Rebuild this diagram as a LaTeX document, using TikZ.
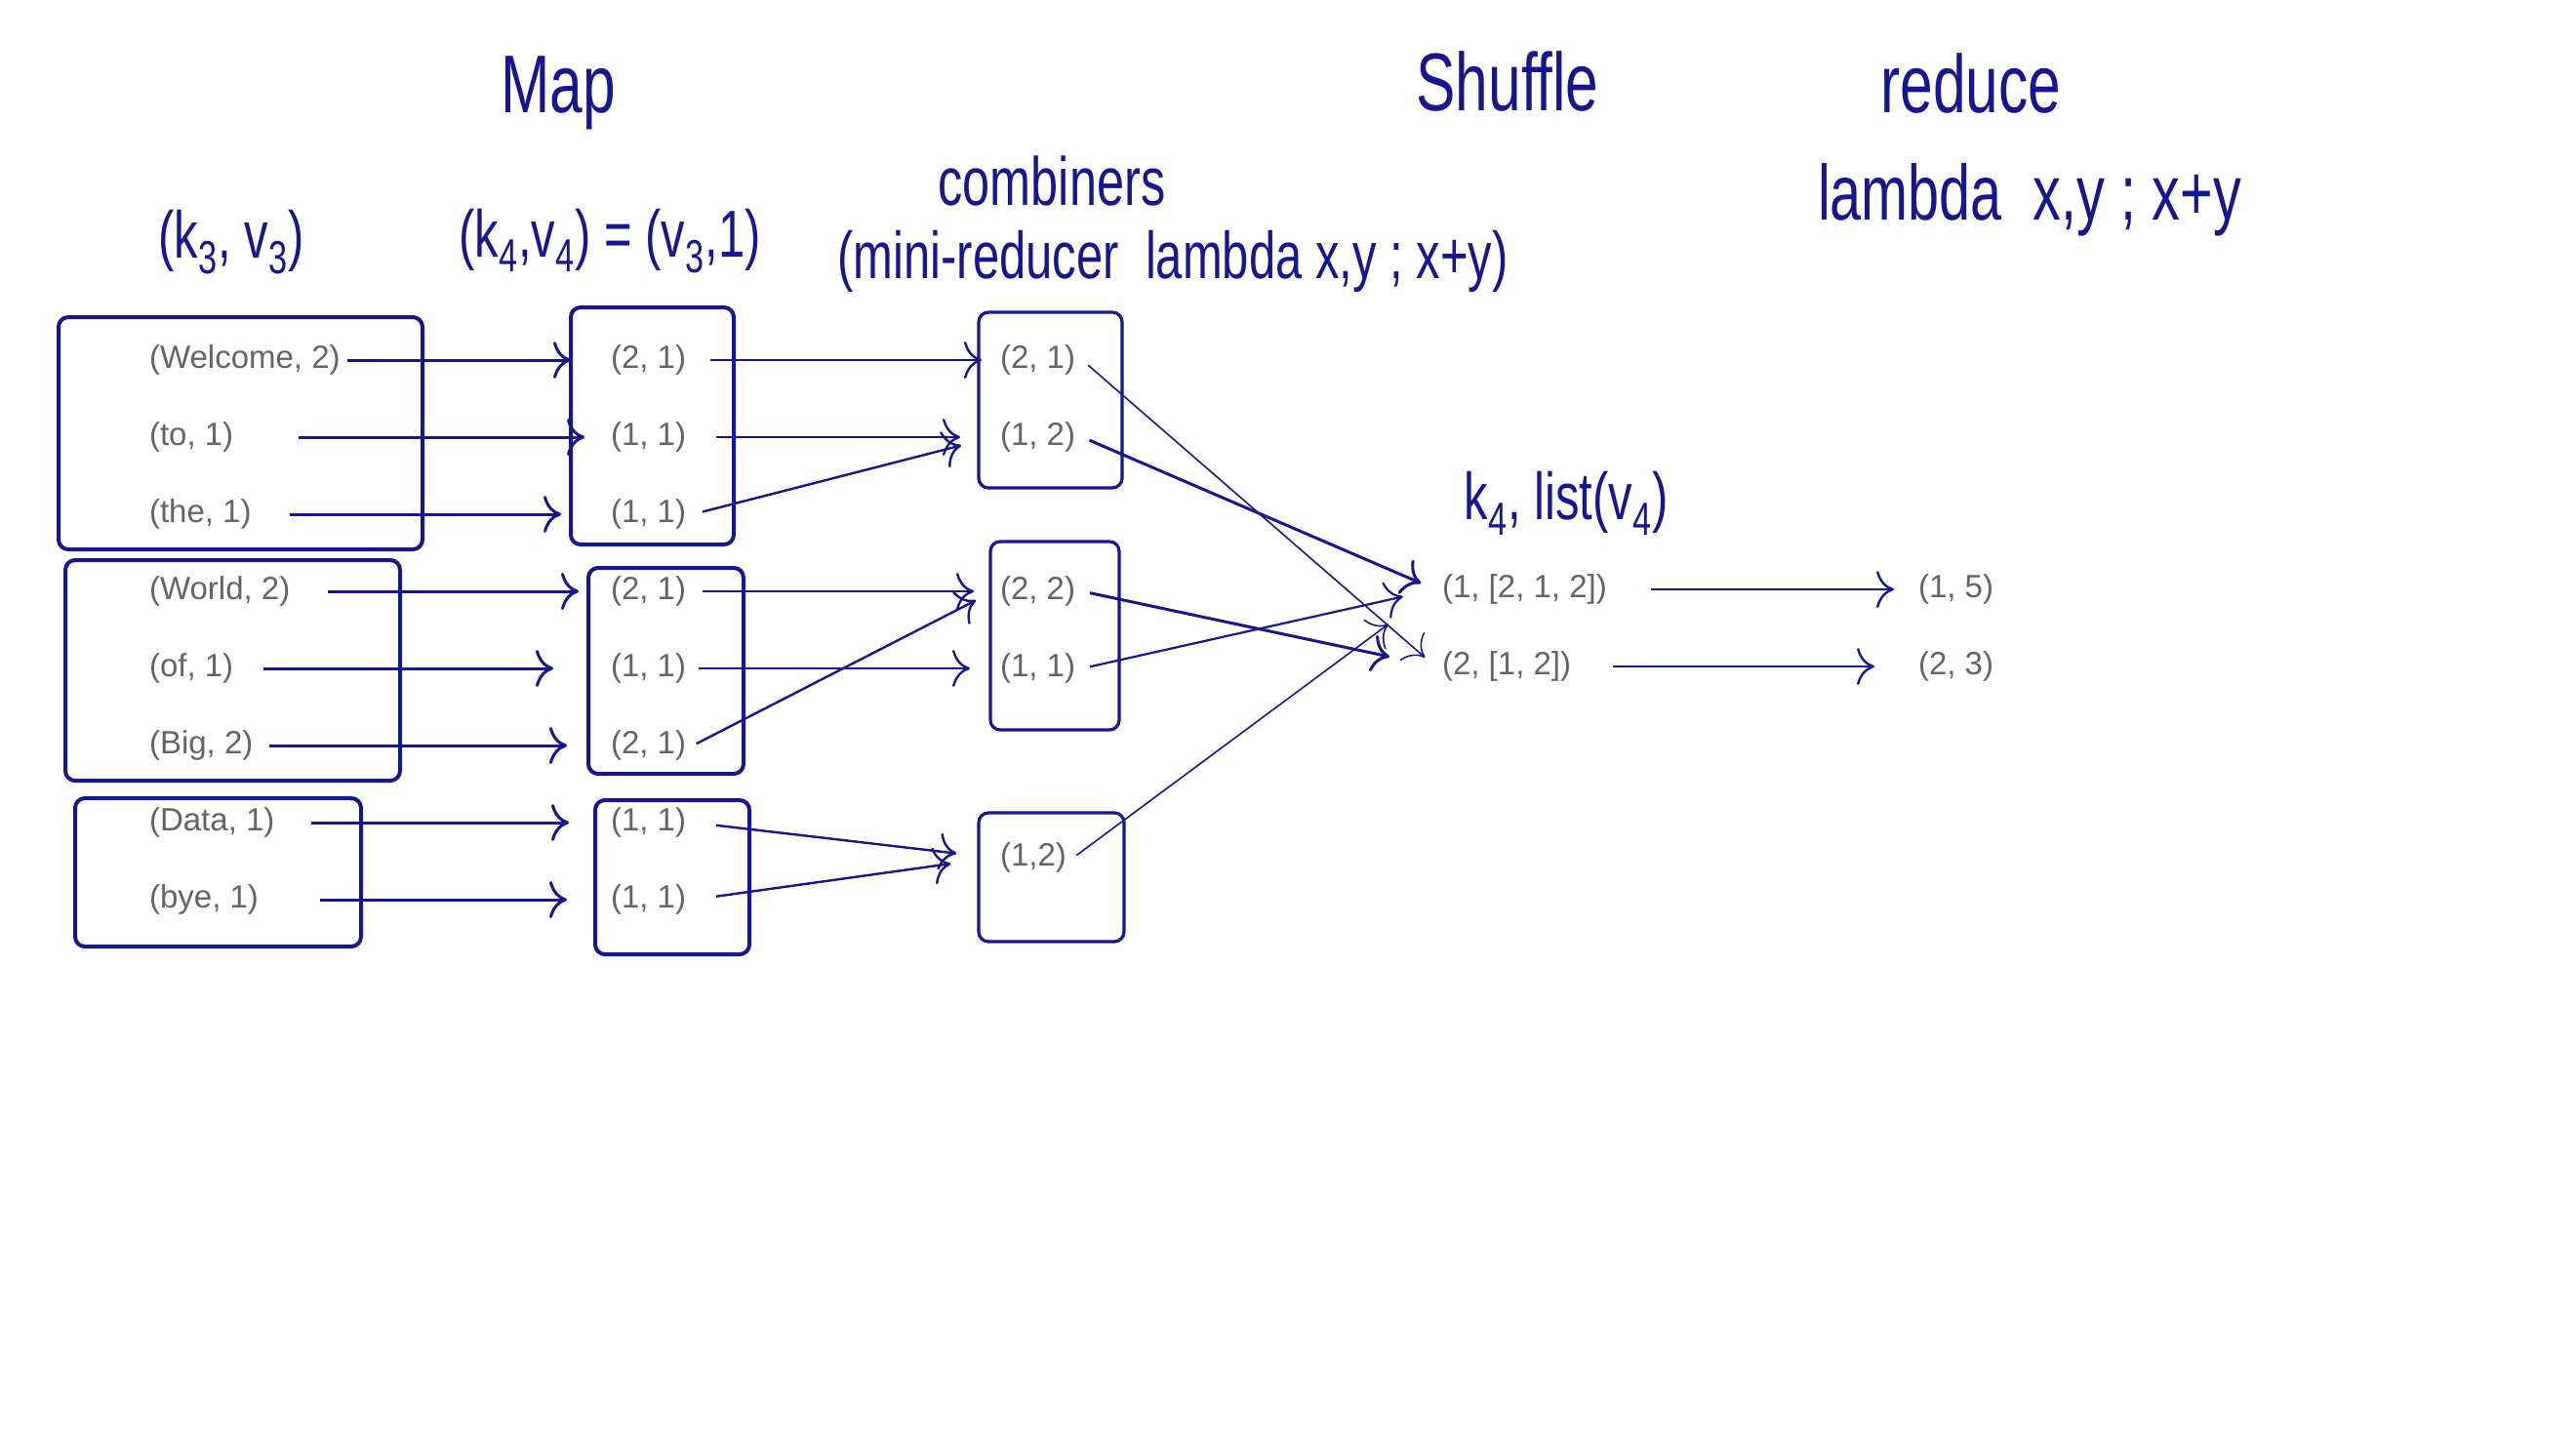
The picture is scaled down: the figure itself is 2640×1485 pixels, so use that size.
\documentclass[tikz,border=0pt]{standalone}
\usepackage{fontspec}
\setmainfont{Liberation Sans}
\newfontfamily\handfont[FakeStretch=0.72]{Liberation Sans}
\usepackage{tikz}
\usetikzlibrary{arrows.meta}

\definecolor{ink}{RGB}{22,22,145}
\definecolor{typed}{RGB}{100,100,100}

\tikzset{
  pair/.style={anchor=west, text=typed, font=\fontsize{16.5}{19}\selectfont},
  hand/.style={text=ink, font=\handfont\fontsize{#1}{#1}\selectfont},
  box/.style={draw=ink, line width=2pt, rounded corners=5pt},
  link/.style={-{To[length=9pt,width=19pt]}, draw=ink, line width=1.5pt},
  thin link/.style={link, line width=0.8pt},
}

\begin{document}
\begin{tikzpicture}[x=0.5pt,y=-0.5pt]
\useasboundingbox (0,0) rectangle (2640,1485);

% headings
\node[hand=42] (maphead) at (572,95) {Map};
\node[hand=42] (shufhead) at (1545,83) {Shuffle};
\node[hand=42] (redhead) at (2020,85) {reduce};
\node[hand=40] (redfun) at (2080,205) {lambda\ \ x,y ; x+y};
\node[hand=35] (combhead) at (1078,185) {combiners};
\node[hand=34] (combfun) at (1202,268) {(mini-reducer\ \ lambda x,y ; x+y)};
\node[hand=34] (kvthree) at (237,248) {(k\textsubscript{3}, v\textsubscript{3})};
\node[hand=34] (kvfour) at (625,247) {(k\textsubscript{4},v\textsubscript{4}) = (v\textsubscript{3},1)};
\node[hand=34] (klist) at (1605,516) {k\textsubscript{4}, list(v\textsubscript{4})};

% input pairs
\node[pair] (welcome) at (146,369) {(Welcome, 2)};
\node[pair] (to) at (146,448) {(to, 1)};
\node[pair] (the) at (146,527) {(the, 1)};
\node[pair] (world) at (146,606) {(World, 2)};
\node[pair] (of) at (146,685) {(of, 1)};
\node[pair] (big) at (146,764) {(Big, 2)};
\node[pair] (data) at (146,843) {(Data, 1)};
\node[pair] (bye) at (146,922) {(bye, 1)};

% map output
\node[pair] (m1) at (619,369) {(2, 1)};
\node[pair] (m2) at (619,448) {(1, 1)};
\node[pair] (m3) at (619,527) {(1, 1)};
\node[pair] (m4) at (619,606) {(2, 1)};
\node[pair] (m5) at (619,685) {(1, 1)};
\node[pair] (m6) at (619,764) {(2, 1)};
\node[pair] (m7) at (619,843) {(1, 1)};
\node[pair] (m8) at (619,922) {(1, 1)};

% combiner output
\node[pair] (c1) at (1018,369) {(2, 1)};
\node[pair] (c2) at (1018,448) {(1, 2)};
\node[pair] (c3) at (1018,606) {(2, 2)};
\node[pair] (c4) at (1018,685) {(1, 1)};
\node[pair] (c5) at (1018,879) {(1,2)};

% shuffle and reduce
\node[pair] (s1) at (1471,604) {(1, [2, 1, 2])};
\node[pair] (s2) at (1471,683) {(2, [1, 2])};
\node[pair] (r1) at (1959,604) {(1, 5)};
\node[pair] (r2) at (1959,683) {(2, 3)};

% boxes
\draw[box] (60,325) rectangle (433,563);
\draw[box] (67,574) rectangle (410,800);
\draw[box] (77,818) rectangle (370,970);
\draw[box] (585,315) rectangle (752,558);
\draw[box] (603,582) rectangle (762,793);
\draw[box] (610,820) rectangle (768,978);
\draw[box, line width=1.6pt] (1003,320) rectangle (1150,500);
\draw[box, line width=1.6pt] (1015,555) rectangle (1147,748);
\draw[box, line width=1.6pt] (1003,833) rectangle (1152,965);

% input to map
\draw[link, shorten >=17pt] (welcome.east) -- (m1.west);
\draw[link, shorten <=30pt, shorten >=10pt] (to.east) -- (m2.west);
\draw[link, shorten <=16pt, shorten >=22pt] (the.east) -- (m3.west);
\draw[link, shorten <=16pt, shorten >=13pt] (world.east) -- (m4.west);
\draw[link, shorten <=12pt, shorten >=26pt] (of.east) -- (m5.west);
\draw[link, shorten <=5pt, shorten >=19pt] (big.east) -- (m6.west);
\draw[link, shorten <=15pt, shorten >=18pt] (data.east) -- (m7.west);
\draw[link, shorten <=28pt, shorten >=19pt] (bye.east) -- (m8.west);

% map to combiners
\draw[link, line width=1.2pt, shorten <=9pt, shorten >=6pt] (m1.east) -- (c1.west);
\draw[link, line width=1.2pt, shorten <=12pt, shorten >=17pt] (m2.east) -- (c2.west);
\draw[link, line width=1.2pt, shorten <=5pt, shorten >=17pt] (m3.east) -- (c2.west);
\draw[link, line width=1.2pt, shorten <=5pt, shorten >=10pt] (m4.east) -- (c3.west);
\draw[link, line width=1.2pt, shorten <=3pt, shorten >=12pt] (m5.east) -- (c4.west);
\draw[link, line width=1.2pt, shorten <=2pt, shorten >=10pt] (m6.east) -- (c3.west);
\draw[link, line width=1.2pt, shorten <=12pt, shorten >=19pt] (m7.east) -- (c5.west);
\draw[link, line width=1.2pt, shorten <=12pt, shorten >=22pt] (m8.east) -- (c5.west);

% combiners to shuffle
\draw[thin link, shorten <=4pt, shorten >=7pt] (c1.east) -- (s2.west);
\draw[link, shorten <=4pt, shorten >=8pt] (c2.east) -- (s1.west);
\draw[link, shorten <=4pt, shorten >=24pt] (c3.east) -- (s2.west);
\draw[link, line width=1.1pt, shorten <=4pt, shorten >=17pt] (c4.east) -- (s1.west);
\draw[thin link, shorten <=2pt, shorten >=30pt] (c5.east) -- (s1.west);

% shuffle to reduce
\draw[link, line width=1.2pt, shorten <=19pt, shorten >=9pt] (s1.east) -- (r1.west);
\draw[link, line width=1.2pt, shorten <=18pt, shorten >=19pt] (s2.east) -- (r2.west);
\end{tikzpicture}
\end{document}
